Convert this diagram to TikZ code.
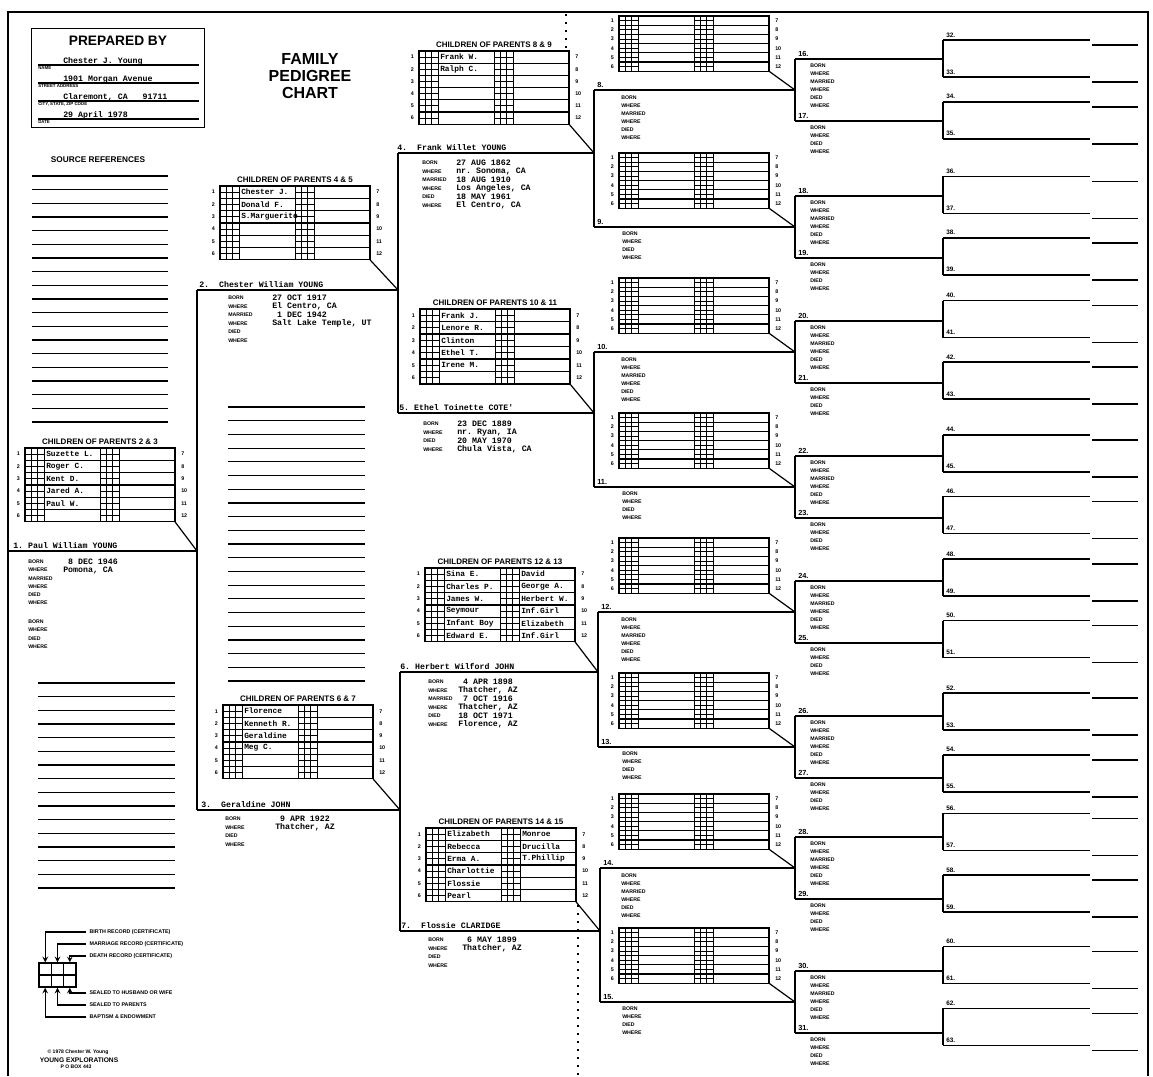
\documentclass[tikz,border=0pt]{standalone}
\usepackage{fontspec}
\setsansfont{Liberation Sans}
\setmonofont{Liberation Mono}

\tikzset{
  tree/.style={line width=1.4pt},
  thintree/.style={line width=1.1pt},
  boxline/.style={line width=0.9pt},
  gridline/.style={line width=0.65pt},
  refline/.style={line width=0.9pt},
  fold/.style={line width=1.2pt, dash pattern=on 1.5pt off 4.5pt},
  typed/.style={font=\ttfamily\bfseries\fontsize{6.2}{7}\selectfont, inner sep=0pt, anchor=west},
  person/.style={typed, anchor=base west},
  kidname/.style={font=\ttfamily\bfseries\fontsize{5.9}{6}\selectfont, inner sep=0pt, anchor=west},
  datalab/.style={font=\sffamily\bfseries\fontsize{3.9}{4}\selectfont, inner sep=0pt, anchor=west},
  rownum/.style={font=\sffamily\bfseries\fontsize{4}{4}\selectfont, inner sep=0pt},
  boxtitle/.style={font=\sffamily\bfseries\fontsize{6}{6}\selectfont, inner sep=0pt, anchor=base},
  pnum/.style={font=\sffamily\bfseries\fontsize{5.5}{5.5}\selectfont, inner sep=0pt, anchor=base west},
  smallnum/.style={font=\sffamily\bfseries\fontsize{4.8}{4.8}\selectfont, inner sep=0pt, anchor=base west},
  formlab/.style={font=\sffamily\bfseries\fontsize{3.3}{3.5}\selectfont, inner sep=0pt, anchor=north west},
  legtext/.style={font=\sffamily\bfseries\fontsize{4}{4}\selectfont, inner xsep=2.5pt, inner ysep=0pt, anchor=west},
  legarrow/.style={line width=0.9pt, ->, >=stealth},
  cell/.style={draw, line width=1pt, minimum width=9.2pt, minimum height=9pt, inner sep=0pt},
}

% box of children: name, x, y of top, row height, names left, names right
\newcommand{\kidbox}[6]{%
  \begin{scope}[shift={(#2,#3)}]
    \draw[boxline] (0,0) rectangle (150,6*#4);
    \foreach \ri in {1,...,5} \draw[boxline] (0,\ri*#4) -- (150,\ri*#4);
    \foreach \gx in {0,75} {
      \foreach \ci in {0,1,2,3} \draw[gridline] (\gx+\ci*6.33,0) -- (\gx+\ci*6.33,6*#4);
      \foreach \hi in {1,3,5,7,9,11} \draw[gridline] (\gx,\hi*#4/2) -- (\gx+19,\hi*#4/2);
    }
    \foreach \ri in {1,...,6} {
      \pgfmathtruncatemacro{\rj}{\ri+6}
      \node[rownum, anchor=east] (#1-l\ri) at (-5,\ri*#4-#4/2) {\ri};
      \node[rownum, anchor=west] (#1-r\ri) at (156,\ri*#4-#4/2) {\rj};
    }
    \foreach \ri/\nm in {#5} \node[kidname] (#1-a\ri) at (21,\ri*#4-#4/2) {\nm};
    \foreach \ri/\nm in {#6} \node[kidname] (#1-b\ri) at (96,\ri*#4-#4/2) {\nm};
    \coordinate (#1) at (150,6*#4);
  \end{scope}}

% blank event labels under a name
\newcommand{\sixlab}[4]{%
  \foreach \lw [count=\wi] in {BORN,WHERE,MARRIED,WHERE,DIED,WHERE}
    \node[datalab] (#1-\wi) at (#2,#3+\wi*#4-#4) {\lw};}
\newcommand{\fourlab}[4]{%
  \foreach \lw [count=\wi] in {BORN,WHERE,DIED,WHERE}
    \node[datalab] (#1-\wi) at (#2,#3+\wi*#4-#4) {\lw};}
% typed facts next to the labels
\newcommand{\facts}[4]{%
  \foreach \ri/\txt in {#4}
    \node[typed] (#1-\ri) at (#2,#3+\ri*8.5-8.5) {\txt};}

\begin{document}
\begin{tikzpicture}[x=0.75pt,y=-0.75pt]
\useasboundingbox (0,0) rectangle (1153,1076);
\draw[line width=1.2pt] (8,1076) -- (8,12) -- (1148,12) -- (1148,1076);

% prepared by
\node[draw, line width=1.1pt, minimum width=129.75pt, minimum height=74.25pt, inner sep=0pt, anchor=north west] (prep) at (31,28) {};
\node[font=\sffamily\bfseries\fontsize{10.3}{11}\selectfont, inner sep=0pt] (preptitle) at (118,41) {PREPARED BY};
\foreach \ri/\yy/\txt/\lab in {1/65/{Chester J. Young}/NAME, 2/83/{1901 Morgan Avenue}/{STREET ADDRESS}, 3/101/{Claremont, CA\ \ \ 91711}/{CITY, STATE, ZIP CODE}, 4/119/{29 April 1978}/DATE} {
  \draw[line width=0.9pt] (38,\yy) -- (199,\yy);
  \node[person] (prep\ri) at (63,\yy-2) {\txt};
  \node[formlab] (preplab\ri) at (38,\yy+1.5) {\lab};
}
\node[font=\sffamily\bfseries\fontsize{12}{12.8}\selectfont, align=center, inner sep=0pt] (title) at (310,76) {FAMILY\\PEDIGREE\\CHART};

% source references
\node[font=\sffamily\bfseries\fontsize{6.2}{6.5}\selectfont, inner sep=0pt] (srcref) at (98,160) {SOURCE REFERENCES};
\foreach \ri in {0,...,18} \draw[refline] (32,176+\ri*13.67) -- (168,176+\ri*13.67);
\foreach \ri in {0,...,20} \draw[refline] (228,407+\ri*13.7) -- (365,407+\ri*13.7);
\foreach \ri in {0,...,15} \draw[refline] (38,683+\ri*13.67) -- (175,683+\ri*13.67);

% fold marks
\draw[fold] (566,14) -- (566,48);
\draw[fold] (578,905) -- (578,1076);

% generations 1 to 3
\coordinate (p1-a) at (8,551);   \coordinate (p1-b) at (197,551);
\coordinate (p2-a) at (197,290); \coordinate (p2-b) at (398,290);
\coordinate (p3-a) at (197,810); \coordinate (p3-b) at (400,810);
\coordinate (p4-a) at (398,153); \coordinate (p4-b) at (594,153);
\coordinate (p5-a) at (398,413); \coordinate (p5-b) at (594,413);
\coordinate (p6-a) at (400,672); \coordinate (p6-b) at (598,672);
\coordinate (p7-a) at (400,931); \coordinate (p7-b) at (600,931);
\draw[tree] (p1-a) -- (p1-b);
\draw[tree] (p2-a) -- (p3-a);
\draw[tree] (p2-a) -- (p2-b);
\draw[tree] (p3-a) -- (p3-b);
\draw[tree] (p4-a) -- (p5-a);
\draw[tree] (p4-a) -- (p4-b);
\draw[tree] (p5-a) -- (p5-b);
\draw[tree] (p6-a) -- (p7-a);
\draw[tree] (p6-a) -- (p6-b);
\draw[tree] (p7-a) -- (p7-b);

\node[person] (t1) at (13,548) {1. Paul William YOUNG};
\node[person] (t2) at (199,287) {2.~~Chester William YOUNG};
\node[person] (t3) at (201,807) {3.~~Geraldine JOHN};
\node[person] (t4) at (397,150) {4.~~Frank Willet YOUNG};
\node[person] (t5) at (399,410) {5.~Ethel Toinette COTE'};
\node[person] (t6) at (400,669) {6.~Herbert Wilford JOHN};
\node[person] (t7) at (401,928) {7.~~Flossie CLARIDGE};

\kidbox{b23}{25}{448}{12.3}{1/Suzette L.,2/Roger C.,3/Kent D.,4/Jared A.,5/Paul W.}{1/{}}
\node[boxtitle] (b23t) at (100,444) {CHILDREN OF PARENTS 2 \& 3};
\draw[boxline] (b23) -- (p1-b);
\kidbox{b45}{220}{186}{12.3}{1/Chester J.,2/Donald F.,3/S.Marguerite}{1/{}}
\node[boxtitle] (b45t) at (295,182) {CHILDREN OF PARENTS 4 \& 5};
\draw[boxline] (b45) -- (p2-b);
\kidbox{b67}{223}{705}{12.3}{1/Florence,2/Kenneth R.,3/Geraldine,4/Meg C.}{1/{}}
\node[boxtitle] (b67t) at (298,701) {CHILDREN OF PARENTS 6 \& 7};
\draw[boxline] (b67) -- (p3-b);
\kidbox{b89}{419}{51}{12.2}{1/Frank W.,2/Ralph C.}{1/{}}
\node[boxtitle] (b89t) at (494,47) {CHILDREN OF PARENTS 8 \& 9};
\draw[boxline] (b89) -- (p4-b);
\kidbox{b1011}{420}{309}{12.5}{1/Frank J.,2/Lenore R.,3/Clinton,4/Ethel T.,5/Irene M.}{1/{}}
\node[boxtitle] (b1011t) at (495,305) {CHILDREN OF PARENTS 10 \& 11};
\draw[boxline] (b1011) -- (p5-b);
\kidbox{b1213}{425}{568}{12.3}{1/Sina E.,2/Charles P.,3/James W.,4/Seymour,5/Infant Boy,6/Edward E.}{1/David,2/George A.,3/Herbert W.,4/Inf.Girl,5/Elizabeth,6/Inf.Girl}
\node[boxtitle] (b1213t) at (500,564) {CHILDREN OF PARENTS 12 \& 13};
\draw[boxline] (b1213) -- (p6-b);
\kidbox{b1415}{426}{828}{12.3}{1/Elizabeth,2/Rebecca,3/Erma A.,4/Charlottie,5/Flossie,6/Pearl}{1/Monroe,2/Drucilla,3/T.Phillip}
\node[boxtitle] (b1415t) at (501,824) {CHILDREN OF PARENTS 14 \& 15};
\draw[boxline] (b1415) -- (p7-b);

% facts
\sixlab{e1}{28}{562}{8.1}
\fourlab{s1}{28}{622}{8.1}
\facts{v1}{63}{562}{1/{~8 DEC 1946},2/{Pomona, CA}}
\sixlab{e2}{228}{298}{8.5}
\facts{v2}{272}{298}{1/{27 OCT 1917},2/{El Centro, CA},3/{~1 DEC 1942},4/{Salt Lake Temple, UT}}
\fourlab{e3}{225}{819}{8.5}
\facts{v3}{275}{819}{1/{~9 APR 1922},2/{Thatcher, AZ}}
\sixlab{e4}{422}{163}{8.5}
\facts{v4}{456}{163}{1/{27 AUG 1862},2/{nr. Sonoma, CA},3/{18 AUG 1910},4/{Los Angeles, CA},5/{18 MAY 1961},6/{El Centro, CA}}
\fourlab{e5}{423}{424}{8.5}
\facts{v5}{457}{424}{1/{23 DEC 1889},2/{nr. Ryan, IA},3/{20 MAY 1970},4/{Chula Vista, CA}}
\sixlab{e6}{428}{682}{8.5}
\facts{v6}{458}{682}{1/{~4 APR 1898},2/{Thatcher, AZ},3/{~7 OCT 1916},4/{Thatcher, AZ},5/{18 OCT 1971},6/{Florence, AZ}}
\fourlab{e7}{428}{940}{8.5}
\facts{v7}{462}{940}{1/{~6 MAY 1899},2/{Thatcher, AZ}}

% generations 4 to 6
\foreach \n/\y/\vx in {8/90/594,9/227/594,10/352/594,11/487/594,12/612/598,13/747/598,14/868/600,15/1002/600} {
  \coordinate (p\n-a) at (\vx,\y);
  \coordinate (p\n-b) at (795,\y);
  \draw[tree] (p\n-a) -- (p\n-b);
  \node[pnum] (n\n) at (\vx+3,\y-3) {\n.};
  \kidbox{k\n}{619}{\y-74}{9.2}{1/{}}{1/{}}
  \draw[boxline] (k\n) -- (p\n-b);
  \ifodd\n\relax
    \fourlab{d\n}{622}{\y+7}{8}
  \else
    \sixlab{d\n}{621}{\y+8}{8}
  \fi
  \pgfmathtruncatemacro{\ma}{2*\n}
  \pgfmathtruncatemacro{\mb}{2*\n+1}
  \foreach \sx/\ox in {0/-31,1/31} {
    \pgfmathtruncatemacro{\m}{2*\n+\sx}
    \pgfmathsetmacro{\ym}{\y+(\ox)}
    \coordinate (p\m-a) at (795,\ym);
    \coordinate (p\m-b) at (943,\ym);
    \draw[tree] (p\m-a) -- (p\m-b);
    \node[pnum] (n\m) at (798,\ym-3) {\m.};
    \ifnum\sx=0
      \sixlab{d\m}{810}{\ym+7}{8}
    \else
      \fourlab{d\m}{810}{\ym+7}{8}
    \fi
    \pgfmathsetmacro{\yc}{\ym-0.006*\ym}
    \pgfmathtruncatemacro{\ga}{2*\m}
    \pgfmathtruncatemacro{\gb}{2*\m+1}
    \foreach \sy/\oy in {0/-18.5,1/18.5} {
      \pgfmathtruncatemacro{\g}{2*\m+\sy}
      \pgfmathsetmacro{\yg}{\yc+(\oy)}
      \coordinate (p\g-a) at (943,\yg);
      \coordinate (p\g-b) at (1090,\yg);
      \coordinate (p\g-c) at (1092,\yg+5);
      \coordinate (p\g-d) at (1138,\yg+5);
      \draw[thintree] (p\g-a) -- (p\g-b);
      \draw[thintree] (p\g-c) -- (p\g-d);
      \node[smallnum] (n\g) at (946,\yg-3) {\g.};
    }
    \draw[tree] (p\ga-a) -- (p\gb-a);
  }
  \draw[tree] (p\ma-a) -- (p\mb-a);
}
\foreach \n in {8,10,12,14} {
  \pgfmathtruncatemacro{\m}{\n+1}
  \draw[tree] (p\n-a) -- (p\m-a);
}

% legend
\foreach \ci/\cx in {1/45.2,2/57.5,3/69.8} {
  \node[cell] (top\ci) at (\cx,969) {};
  \node[cell] (bot\ci) at (\cx,981) {};
}
\node[legtext] (leg1) at (86,932) {BIRTH RECORD (CERTIFICATE)};
\node[legtext] (leg2) at (86,944) {MARRIAGE RECORD (CERTIFICATE)};
\node[legtext] (leg3) at (86,956) {DEATH RECORD (CERTIFICATE)};
\node[legtext] (leg4) at (86,993) {SEALED TO HUSBAND OR WIFE};
\node[legtext] (leg5) at (86,1005) {SEALED TO PARENTS};
\node[legtext] (leg6) at (86,1017) {BAPTISM \& ENDOWMENT};
\draw[legarrow] (leg1.west) -| (top1.north);
\draw[legarrow] (leg2.west) -| (top2.north);
\draw[legarrow] (leg3.west) -| (top3.north);
\draw[legarrow] (leg4.west) -| (bot3.south);
\draw[legarrow] (leg5.west) -| (bot2.south);
\draw[legarrow] (leg6.west) -| (bot1.south);

\node[font=\sffamily\bfseries\fontsize{3.8}{4}\selectfont, inner sep=0pt] (copy1) at (78,1052) {\textcopyright\ 1978 Chester W. Young};
\node[font=\sffamily\bfseries\fontsize{5}{5}\selectfont, inner sep=0pt] (copy2) at (79,1060) {YOUNG EXPLORATIONS};
\node[font=\sffamily\bfseries\fontsize{3.8}{4}\selectfont, inner sep=0pt] (copy3) at (76,1067) {P O BOX 443};
\end{tikzpicture}
\end{document}
